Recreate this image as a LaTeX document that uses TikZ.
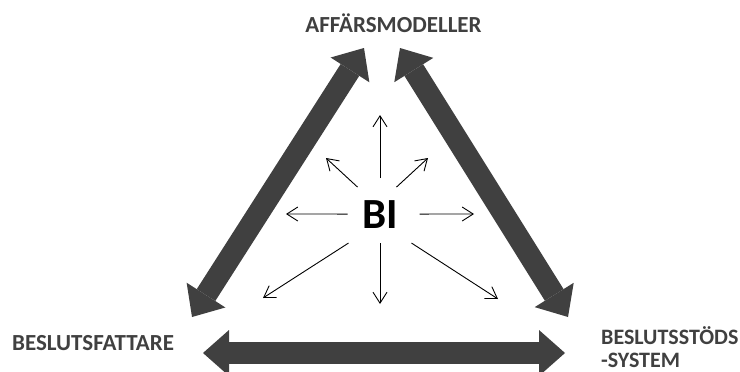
\documentclass[tikz,border=0pt]{standalone}
\usepackage{fontspec}
\setmainfont{Carlito}
\usetikzlibrary{arrows.meta}
\definecolor{arrowgray}{HTML}{404040}
\begin{document}
\begin{tikzpicture}[x=1pt,y=-1pt,
  bigarrow/.style={draw=arrowgray, line width=22pt,
    {Triangle[length=26pt,width=46pt,line width=0pt]}-{Triangle[length=26pt,width=46pt,line width=0pt]}},
  ray/.style={draw=black, line width=0.9pt, -{Straight Barb[length=11pt,width=14pt]}},
  caption/.style={text=arrowgray, font=\bfseries\fontsize{23}{23}\selectfont, inner sep=0pt}
]
\useasboundingbox (0,0) rectangle (740,372);

% corner labels
\node[caption, anchor=base] (aff) at (393.5,32) {AFFÄRSMODELLER};
\node[caption, anchor=base west] (bf) at (12,350) {BESLUTSFATTARE};
\node[caption, font=\bfseries\fontsize{22}{23}\selectfont, anchor=north west, align=left] (bss) at (601,326) {BESLUTSSTÖDS\\-SYSTEM};

% tips of the three double arrows
\coordinate (lt) at (364,48);
\coordinate (lb) at (192,317);
\coordinate (rt) at (400,48);
\coordinate (rb) at (568,317);
\coordinate (bl) at (203,353);
\coordinate (br) at (565,353);

\draw[bigarrow] (lb) -- (lt);
\draw[bigarrow] (rt) -- (rb);
\draw[bigarrow] (bl) -- (br);

% centre
\node[font=\bfseries\fontsize{43}{45}\selectfont, inner sep=0pt, anchor=base] (bi) at (380.5,228) {BI};

% rays going out from BI
\coordinate (n)  at (380,115);
\coordinate (nw) at (326,158);
\coordinate (ne) at (428,158);
\coordinate (w)  at (286,214);
\coordinate (e)  at (474,214);
\coordinate (sw) at (263,298);
\coordinate (s)  at (380,304);
\coordinate (se) at (498,299);

\draw[ray] ([shift={(-0.5,-36)}]bi.center) -- (n);
\draw[ray] ([shift={(-23,-27)}]bi.center) -- (nw);
\draw[ray] ([shift={(16,-27)}]bi.center) -- (ne);
\draw[ray] ([shift={(-33,0)}]bi.center) -- (w);
\draw[ray] ([shift={(39,0)}]bi.center) -- (e);
\draw[ray] ([shift={(-32,29)}]bi.center) -- (sw);
\draw[ray] ([shift={(-0.5,29)}]bi.center) -- (s);
\draw[ray] ([shift={(31,29)}]bi.center) -- (se);
\end{tikzpicture}
\end{document}
